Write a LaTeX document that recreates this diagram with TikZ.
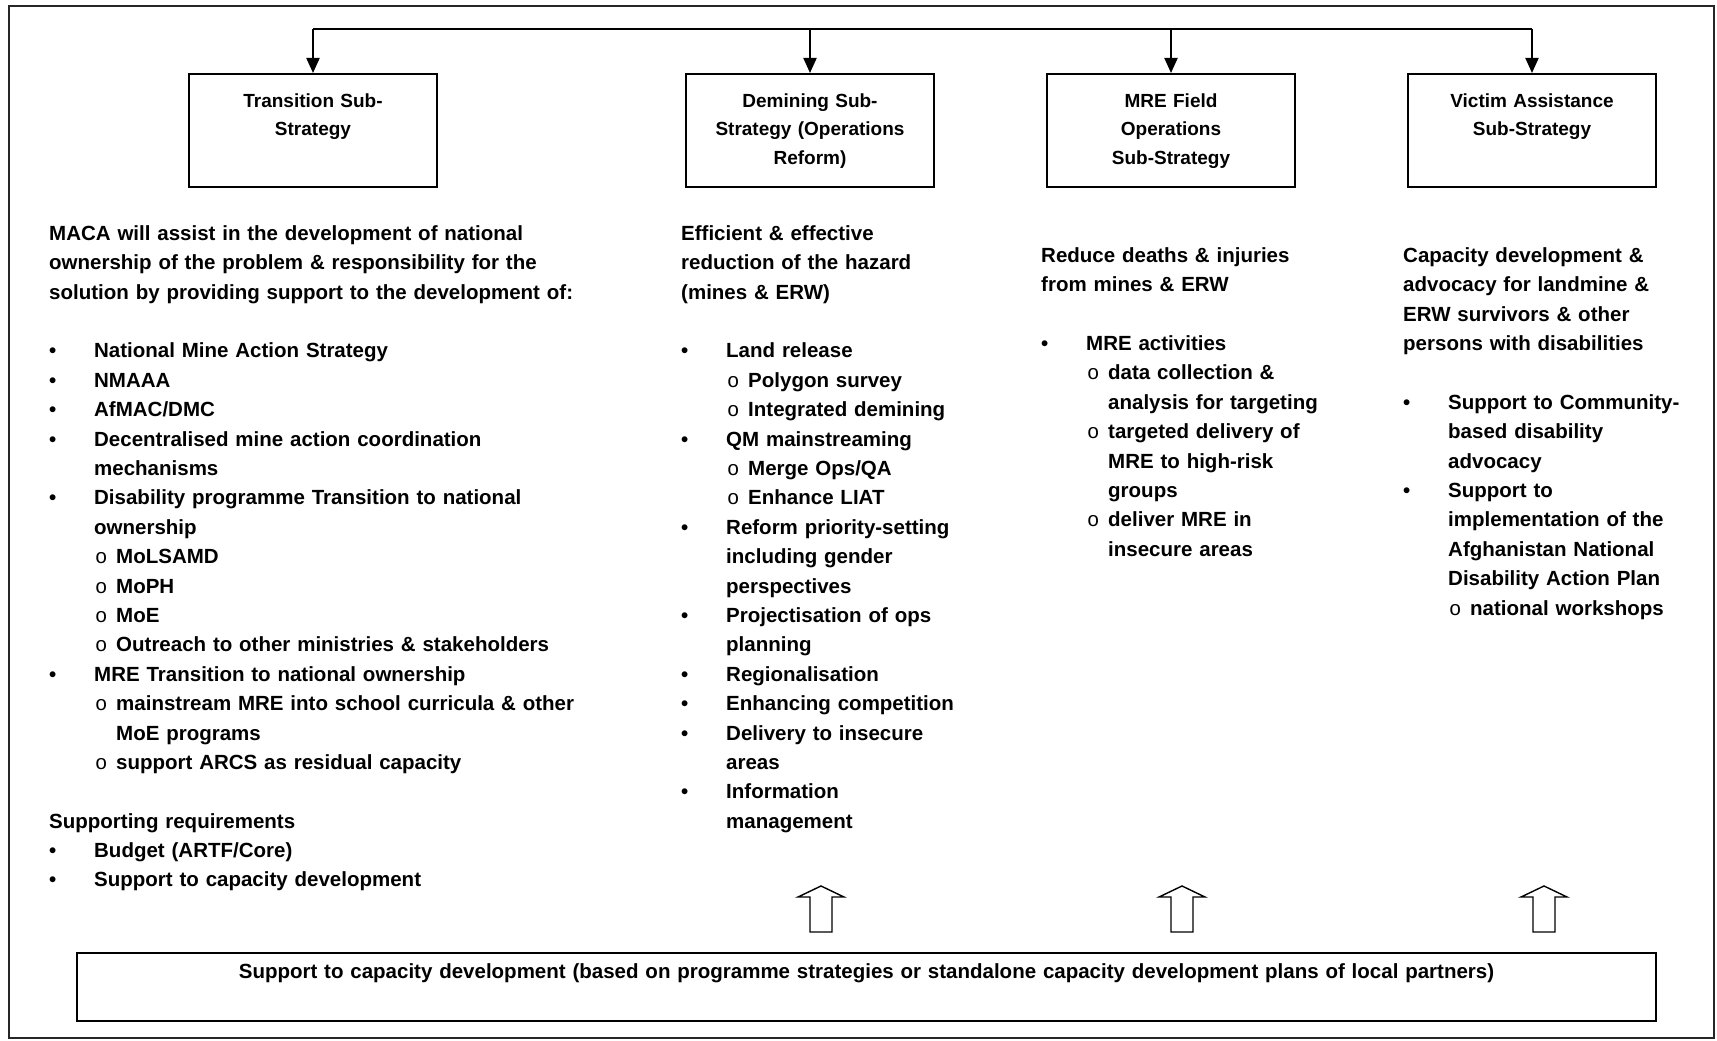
\documentclass[tikz,border=0pt]{standalone}
\usepackage{fontspec}
\setmainfont{Liberation Sans}
\newfontfamily\circfont{Liberation Mono}
\usetikzlibrary{arrows.meta,positioning}

\newcommand{\bul}{\makebox[45pt][l]{\textbullet}}
\newcommand{\subb}{\hspace*{46pt}\makebox[21pt][l]{{\circfont\mdseries o}}}
\newcommand{\cont}{\hspace*{45pt}}
\newcommand{\subcont}{\hspace*{67pt}}

\begin{document}
\begin{tikzpicture}[x=1pt,y=-1pt,
  subbox/.style={draw,line width=2pt,minimum width=248pt,minimum height=113pt,inner sep=0pt,
    text width=236pt,align=center,font=\bfseries\fontsize{19}{28.7}\selectfont,
    execute at begin node={\rule{0pt}{16pt}},execute at end node={\rule[-5pt]{0pt}{5pt}}},
  coltext/.style={anchor=north west,inner sep=0pt,text width=#1,align=left,
    font=\bfseries\fontsize{20.5}{29.4}\selectfont,execute at begin node={\rule{0pt}{16pt}}},
  busarrow/.style={line width=2pt,-{Triangle[length=15pt,width=13pt]}},
  hollow/.style={line width=1.4pt,line join=miter}]
\useasboundingbox (0,0) rectangle (1717,1041);
\draw[line width=2pt,black!85] (9,6) rectangle (1714,1038);

% sub-strategy boxes
\node[subbox] (trans) at (313,130.5) {Transition Sub-\\Strategy\\\mbox{}};
\node[subbox] (demin) at (810,130.5) {Demining Sub-\\Strategy (Operations\\Reform)};
\node[subbox] (mrefield) at (1171,130.5) {MRE Field\\Operations\\Sub-Strategy};
\node[subbox] (victim) at (1532,130.5) {Victim Assistance\\Sub-Strategy\\\mbox{}};

\coordinate (bus) at (0,29);
\draw[line width=2pt] (trans.north |- bus) -- (victim.north |- bus);
\foreach \b in {trans,demin,mrefield,victim}
  \draw[busarrow] (\b.north |- bus) -- (\b.north);

% column texts
\node[coltext=560pt] (transtext) at (49,224) {MACA will assist in the development of national\\
ownership of the problem \& responsibility for the\\
solution by providing support to the development of:\\
\mbox{}\\
\bul National Mine Action Strategy\\
\bul NMAAA\\
\bul AfMAC/DMC\\
\bul Decentralised mine action coordination\\
\cont mechanisms\\
\bul Disability programme Transition to national\\
\cont ownership\\
\subb MoLSAMD\\
\subb MoPH\\
\subb MoE\\
\subb Outreach to other ministries \& stakeholders\\
\bul MRE Transition to national ownership\\
\subb mainstream MRE into school curricula \& other\\
\subcont MoE programs\\
\subb support ARCS as residual capacity\\
\mbox{}\\
Supporting requirements\\
\bul Budget (ARTF/Core)\\
\bul Support to capacity development};

\node[coltext=330pt] (demintext) at (681,224) {Efficient \& effective\\
reduction of the hazard\\
(mines \& ERW)\\
\mbox{}\\
\bul Land release\\
\subb Polygon survey\\
\subb Integrated demining\\
\bul QM mainstreaming\\
\subb Merge Ops/QA\\
\subb Enhance LIAT\\
\bul Reform priority-setting\\
\cont including gender\\
\cont perspectives\\
\bul Projectisation of ops\\
\cont planning\\
\bul Regionalisation\\
\bul Enhancing competition\\
\bul Delivery to insecure\\
\cont areas\\
\bul Information\\
\cont management};

\node[coltext=330pt] (mretext) at (1041,246) {Reduce deaths \& injuries\\
from mines \& ERW\\
\mbox{}\\
\bul MRE activities\\
\subb data collection \&\\
\subcont analysis for targeting\\
\subb targeted delivery of\\
\subcont MRE to high-risk\\
\subcont groups\\
\subb deliver MRE in\\
\subcont insecure areas};

\node[coltext=300pt] (victimtext) at (1403,246) {Capacity development \&\\
advocacy for landmine \&\\
ERW survivors \& other\\
persons with disabilities\\
\mbox{}\\
\bul Support to Community-\\
\cont based disability\\
\cont advocacy\\
\bul Support to\\
\cont implementation of the\\
\cont Afghanistan National\\
\cont Disability Action Plan\\
\subb national workshops};

% capacity development base
\node[subbox,minimum width=1579pt,minimum height=68pt,text width=1560pt,
  font=\bfseries\fontsize{20.5}{29}\selectfont] (capdev) at (866.5,987)
  {Support to capacity development (based on programme strategies or standalone capacity development plans of local partners)\\\mbox{}};

\foreach \ax in {821,1182,1544}
  \draw[hollow] (\ax-11,932) -- (\ax-11,897) -- (\ax-23,897) -- (\ax,886)
    -- (\ax+23,897) -- (\ax+11,897) -- (\ax+11,932) -- cycle;
\end{tikzpicture}
\end{document}
